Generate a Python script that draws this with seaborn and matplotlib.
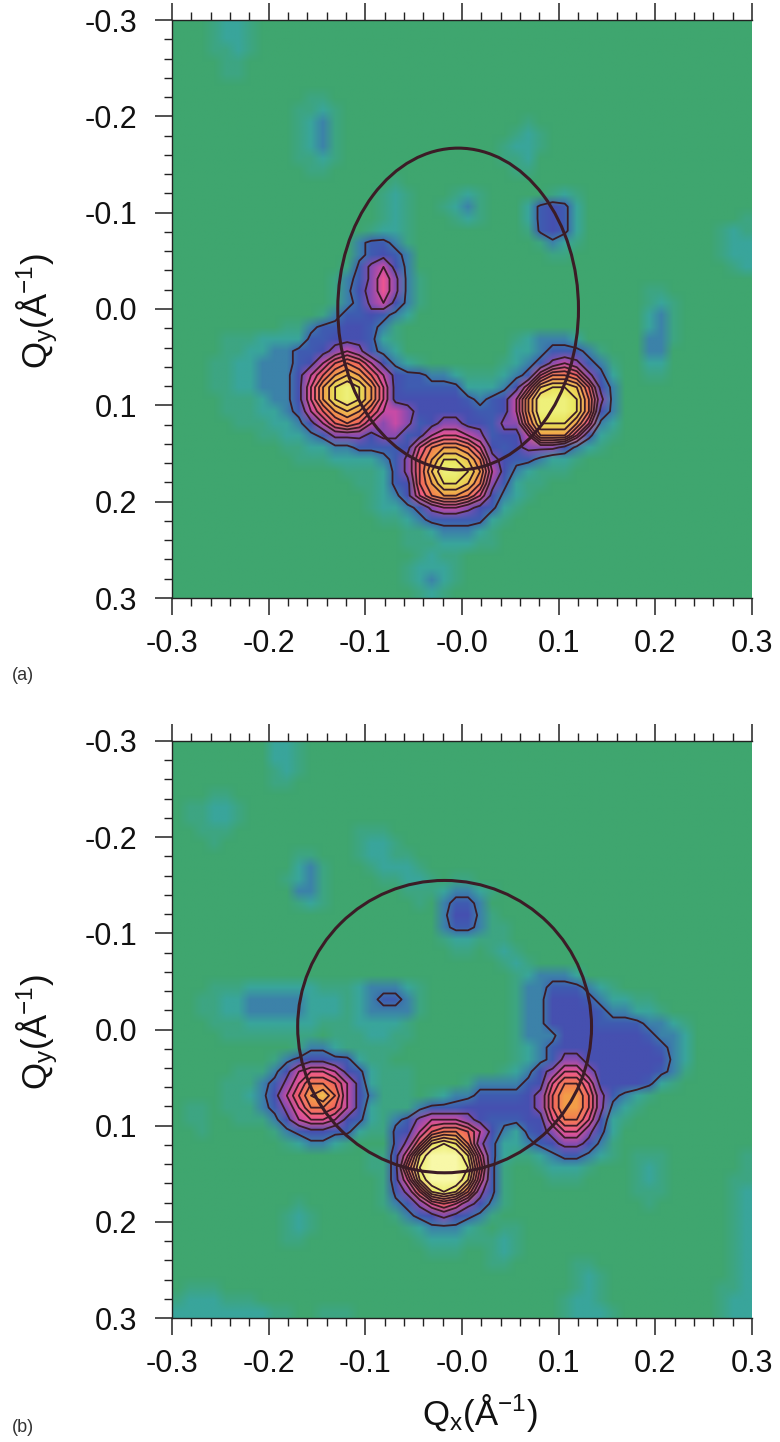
import numpy as np
import matplotlib
matplotlib.use("Agg")
import matplotlib.pyplot as plt
from matplotlib.colors import ListedColormap
from matplotlib.patches import Ellipse
import seaborn as sns

# intensity, one hex digit per cell (0 = background, f = brightest)
# rows are top to bottom, groups of six columns are only there for readability
panel_a_rows = [
    "000122 100000",
    "000122 100000",
    "000112 100000",
    "000011",
    "000011",
    "000000",
    "000000 000001 100000",
    "000000 000011 210000",
    "000000 000012 310000 000000 000001",
    "000000 000012 310000 000000 000012 100000",
    "000000 000012 310000 000000 000122 100000",
    "000000 000011 210000 000000 000112",
    "000000 000001 100000 000000 000011",
    "000000 000000 000000 100000",
    "000000 000000 000001 210001 210000 012100",
    "000000 000000 000001 210012 310002 454200",
    "000000 000000 000001 210001 210002 454200 000000 000001",
    "000000 000000 000012 210000 000001 454200 000000 000121",
    "000000 000000 000344 310000 000000 132100 000000 000122",
    "000000 000000 000345 430000 000000 011000 000000 000122",
    "000000 000000 001467 530000 000000 000000 000000 000012",
    "000000 000000 013468 631000",
    "000000 000000 013568 631000 000000 000000 000110",
    "000000 000000 013467 531000 000000 000000 000121",
    "000000 000000 134454 320000 000000 000000 000231",
    "000000 000113 445543 100000 000000 000000 000231",
    "000011 122224 455542 100000 000012 333200 000331",
    "000011 223344 567643 200000 000022 344431 000330",
    "000112 233345 79a975 321000 000123 467643 100220",
    "000112 233357 9bcb97 544332 111234 8aa964 200110",
    "000112 233358 bdedb8 544444 222358 cddc95 300000",
    "000011 123358 bdedb8 555555 43457b eeeda6 300000",
    "000011 122347 9bcb97 765555 54457b eeeda5 300000",
    "000001 112235 79a976 764566 55466a dddb83 200000",
    "000000 011223 466656 645788 764557 bbb842 100000",
    "000000 000112 233444 458abb a85456 665321",
    "000000 000011 122223 469bdd ca6544 322100",
    "000000 000000 001112 469cee db7532 111000",
    "000000 000000 000112 459bdd ca6421 100000",
    "000000 000000 000012 358abb a85321",
    "000000 000000 000012 234677 654210",
    "000000 000000 000001 123444 442100",
    "000000 000000 000000 011233 321000",
    "000000 000000 000000 011122 211000",
    "000000 000000 000000 001211",
    "000000 000000 000000 012221",
    "000000 000000 000000 012321",
    "000000 000000 000000 001210",
]

panel_b_rows = [
    "000000 002210",
    "000000 002210",
    "000000 001210",
    "000000 001100",
    "000110",
    "011221",
    "011221",
    "001110 000000 000111",
    "000100 000000 000122 100000",
    "000000 000011 000122 110000",
    "000000 000023 100012 221000",
    "000000 000123 100001 122101 100000",
    "000000 000033 100000 011123 321000",
    "000000 000012 100000 001034 430000",
    "000000 000000 000000 000035 531000",
    "000000 000000 000000 000034 431100",
    "000000 000000 000000 000012 211100",
    "000000 000000 000000 000001 101210",
    "000000 000000 000000 000000 000121",
    "000000 000000 000000 000000 000012 333200",
    "000111 222222 111233 321000 000013 344432 100000",
    "001122 333332 221234 431000 000013 355543 221100",
    "001122 333332 221233 331000 000013 355554 332210",
    "000111 222222 111222 210000 000013 355554 444332 100000",
    "000011 111111 011122 110000 000013 335555 555433 200000",
    "000000 000013 321111 100000 000012 345555 555543 200000",
    "000000 001345 544211 000000 000012 346655 555553 200000",
    "000001 113578 875421 110000 000123 568865 555543 100000",
    "000011 13468a a97521 110000 133334 58aa85 555421",
    "000011 23579b ca7531 110123 344445 69bb96 432100",
    "011011 13468a a97521 113444 555555 69bb96 321000",
    "011001 113578 875421 346777 654445 58aa85 210000",
    "001000 001345 544211 4579aa 975324 568864 200000",
    "000000 000123 321000 469ded a64223 456653 100000",
    "000000 000000 000011 58dfff d84211 234432 101110 000001",
    "000000 000000 000011 5aefff e94100 122210 001210 000001",
    "000000 000000 000001 58dfff d84100 011100 001210 000011",
    "000000 000000 000001 469ded a64100 000000 001110 000012",
    "000000 000010 000001 346898 653100 000000 000100 000012",
    "000000 000121 000000 134565 431000 000000 000000 000012",
    "000000 000121 000000 012333 210110 000000 000000 000012",
    "000000 000110 000000 001222 111210 000000 000000 000012",
    "000000 000000 000000 000111 001210 000000 000000 000012",
    "000000 000000 000000 000000 001100 000110 000000 000012",
    "000000 000000 000000 000000 000000 000121 000000 000012",
    "011100 000000 000000 000000 000000 000121 000000 000112",
    "122211 100000 000000 000000 000000 001221 000000 000122",
    "222222 221100 111000 000000 000000 001222 100000 000122",
]

level_colors = ["#3fa66f", "#3da582", "#39a59b", "#3c82a9", "#3f5cb1", "#4650b0",
                "#8a4cb0", "#c84ba6", "#ec5592", "#f2605f", "#f47c50", "#f29d48",
                "#f0c250", "#e8e45a", "#eef07a", "#f8f8a8"]
contour_levels = [3.5, 5.5, 7, 8, 9, 10, 11, 12, 13, 14]

# centre x, centre y, half width, half height in inverse angstrom
ring_a = [-0.004, 0.0, 0.1245, 0.167]
ring_b = [-0.018, -0.003, 0.152, 0.152]

x_tick_values = [-0.3, -0.2, -0.1, 0.0, 0.1, 0.2, 0.3]
x_tick_labels = ["-0.3", "-0.2", "-0.1", "-0.0", "0.1", "0.2", "0.3"]
y_tick_labels = ["-0.3", "-0.2", "-0.1", "0.0", "0.1", "0.2", "0.3"]
minor_tick_values = [-0.28, -0.26, -0.24, -0.22, -0.18, -0.16, -0.14, -0.12, -0.08, -0.06,
                     -0.04, -0.02, 0.02, 0.04, 0.06, 0.08, 0.12, 0.14, 0.16, 0.18, 0.22,
                     0.24, 0.26, 0.28]

N_CELLS = 48
LINE_COLOR = "#3b1c26"
TEXT_COLOR = "#111111"

sns.set_theme(style="white")
plt.rcParams["font.family"] = ["Liberation Sans", "DejaVu Sans"]
plt.rcParams["mathtext.fontset"] = "custom"
plt.rcParams["mathtext.rm"] = "Liberation Sans"
plt.rcParams["mathtext.it"] = "Liberation Sans"
plt.rcParams["mathtext.default"] = "regular"


def parse_rows(rows):
    grid = []
    for row in rows:
        row = row.replace(" ", "").ljust(N_CELLS, "0")[:N_CELLS]
        grid.append([int(ch, 16) for ch in row])
    return np.array(grid, dtype=float)


def to_cell(q):
    return (np.asarray(q) + 0.3) / 0.6 * N_CELLS


def draw_panel(ax, rows, ring):
    grid = parse_rows(rows)
    cmap = ListedColormap(level_colors)
    sns.heatmap(grid, ax=ax, cmap=cmap, vmin=-0.5, vmax=15.5,
                cbar=False, xticklabels=False, yticklabels=False)
    # the original is a soft scan, so the same cells go on top with their colours blended
    ax.imshow(grid, cmap=cmap, vmin=-0.5, vmax=15.5, extent=(0, N_CELLS, N_CELLS, 0),
              aspect="auto", interpolation="bilinear", interpolation_stage="rgba", zorder=1.5)
    ax.set_xlim(0, N_CELLS)
    ax.set_ylim(N_CELLS, 0)

    centers = np.arange(N_CELLS) + 0.5
    ax.contour(centers, centers, grid, levels=contour_levels, colors=LINE_COLOR,
               linewidths=1.3, zorder=2)
    ax.add_patch(Ellipse((to_cell(ring[0]), to_cell(ring[1])),
                         ring[2] / 0.6 * N_CELLS * 2, ring[3] / 0.6 * N_CELLS * 2,
                         fill=False, edgecolor=LINE_COLOR, linewidth=2.2, zorder=3))

    ax.set_xticks(to_cell(x_tick_values))
    ax.set_xticklabels(x_tick_labels, fontsize=22, color=TEXT_COLOR)
    ax.set_yticks(to_cell(x_tick_values))
    ax.set_yticklabels(y_tick_labels, fontsize=22, color=TEXT_COLOR, rotation=0)
    ax.set_xticks(to_cell(minor_tick_values), minor=True)
    ax.set_yticks(to_cell(minor_tick_values), minor=True)
    ax.tick_params(which="major", length=12, width=1.1, color="#222222",
                   left=True, bottom=True, top=True, right=False)
    ax.tick_params(which="minor", length=6, width=1.0, color="#222222",
                   left=True, bottom=True, top=True, right=False)
    ax.tick_params(axis="x", which="major", pad=10)
    ax.tick_params(axis="y", which="major", pad=13)
    for side in ["left", "top", "bottom"]:
        ax.spines[side].set_visible(True)
        ax.spines[side].set_color("#222222")
        ax.spines[side].set_linewidth(1.0)


fig = plt.figure(figsize=(7.8, 14.42), dpi=100)
W, H = 780.0, 1442.0
ax_a = fig.add_axes([172 / W, 1 - 598 / H, 580 / W, 578 / H])
ax_b = fig.add_axes([172 / W, 1 - 1318 / H, 580 / W, 577 / H])

draw_panel(ax_a, panel_a_rows, ring_a)
draw_panel(ax_b, panel_b_rows, ring_b)

y_label = r"Q$_{y}$(Å$^{-1}$)"
fig.text(37 / W, 1 - 311 / H, y_label, rotation=90, fontsize=25, ha="center", va="center", color=TEXT_COLOR)
fig.text(37 / W, 1 - 1032 / H, y_label, rotation=90, fontsize=25, ha="center", va="center", color=TEXT_COLOR)
fig.text(480 / W, 1 - 1413 / H, r"Q$_{x}$(Å$^{-1}$)", fontsize=25, ha="center", va="center", color=TEXT_COLOR)
fig.text(12 / W, 1 - 675 / H, "(a)", fontsize=13, ha="left", va="center", color="#333333")
fig.text(12 / W, 1 - 1427 / H, "(b)", fontsize=13, ha="left", va="center", color="#333333")

fig.savefig("out.png", dpi=100)
